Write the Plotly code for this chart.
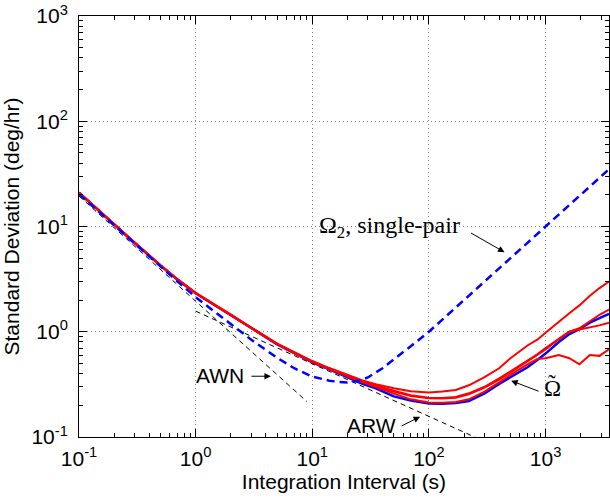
import math
import plotly.graph_objects as go

# ---------------- data ----------------
TAU = [0.1, 0.15, 0.2, 0.3, 0.5, 0.7, 1, 1.5, 2, 3, 5, 7, 10, 14, 20, 27, 35, 50, 70,
       100, 130, 170, 220, 300, 400, 500, 700, 850, 1000, 1300, 1600, 1950, 2400, 2900, 3500]

RED_1 = [21.1, 14.05, 10.55, 7.05, 4.3, 3.16, 2.345, 1.78, 1.47, 1.095, 0.772, 0.636, 0.527, 0.452,
         0.39, 0.345, 0.318, 0.29, 0.272, 0.265, 0.27, 0.28, 0.31, 0.37, 0.45, 0.56, 0.74,
         0.84, 0.98, 1.25, 1.5, 1.78, 2.2, 2.6, 3.0]
RED_2 = [21.0, 13.97, 10.48, 7.0, 4.27, 3.14, 2.33, 1.77, 1.46, 1.09, 0.767, 0.632, 0.522, 0.449,
         0.385, 0.338, 0.31, 0.275, 0.25, 0.236, 0.235, 0.24, 0.26, 0.30, 0.36, 0.42, 0.53,
         0.61, 0.70, 0.86, 1.0, 1.08, 1.25, 1.45, 1.62]
RED_3 = [20.95, 13.95, 10.46, 6.99, 4.26, 3.13, 2.33, 1.77, 1.46, 1.09, 0.765, 0.628, 0.518, 0.446,
         0.38, 0.333, 0.305, 0.27, 0.245, 0.233, 0.232, 0.236, 0.255, 0.295, 0.35, 0.41, 0.52,
         0.60, 0.68, 0.85, 1.0, 1.05, 1.1, 1.15, 1.22]
RED_4 = [20.9, 13.9, 10.43, 6.97, 4.25, 3.12, 2.32, 1.76, 1.455, 1.085, 0.762, 0.626, 0.515, 0.443,
         0.375, 0.33, 0.30, 0.258, 0.228, 0.213, 0.212, 0.215, 0.228, 0.27, 0.33, 0.39, 0.49,
         0.55, 0.56, 0.60, 0.56, 0.49, 0.60, 0.59, 0.68]
OMEGA_TILDE = [20.9, 13.9, 10.43, 6.97, 4.25, 3.12, 2.32, 1.76, 1.455, 1.085, 0.76, 0.624, 0.512,
               0.44, 0.372, 0.32, 0.29, 0.243, 0.222, 0.208, 0.207, 0.21, 0.22, 0.26, 0.32,
               0.37, 0.46, 0.54, 0.62, 0.80, 0.95, 1.06, 1.22, 1.35, 1.48]

TAU_PAIR = [0.1, 0.2, 0.3, 0.5, 0.7, 1, 1.5, 2, 3, 5, 7, 10, 14, 17, 20, 25, 30, 40, 50, 60, 70,
            100, 150, 200, 300, 500, 1000, 2000, 3500]
OMEGA2_PAIR = [20.3, 10.2, 6.85, 4.15, 3.0, 2.13, 1.5, 1.18, 0.84, 0.565, 0.45, 0.375, 0.343,
               0.333, 0.33, 0.342, 0.368, 0.45, 0.55, 0.64, 0.73, 1.0, 1.5, 2.0, 3.0, 5.0, 10.0,
               20.0, 35.0]

TAU_AWN = [0.1, 9.0]
AWN = [19.5, 0.217]
TAU_ARW = [1.0, 260.0]
ARW = [1.57, 0.0974]

X_TICKS = [0.1, 1, 10, 100, 1000]
X_TICKTEXT = ["10<sup>-1</sup>", "10<sup>0</sup>", "10<sup>1</sup>", "10<sup>2</sup>", "10<sup>3</sup>"]
Y_TICKS = [0.1, 1, 10, 100, 1000]
Y_TICKTEXT = ["10<sup>-1</sup>", "10<sup>0</sup>", "10<sup>1</sup>", "10<sup>2</sup>", "10<sup>3</sup>"]
X_MAX = 3500

# ---------------- figure ----------------
fig = go.Figure()

fig.add_trace(go.Scatter(x=TAU_AWN, y=AWN, mode="lines",
                         line=dict(color="black", width=1, dash="5px,4px")))
fig.add_trace(go.Scatter(x=TAU_ARW, y=ARW, mode="lines",
                         line=dict(color="black", width=1, dash="5px,4px")))
fig.add_trace(go.Scatter(x=TAU, y=OMEGA_TILDE, mode="lines",
                         line=dict(color="#0000ff", width=2.5)))
for r in (RED_4, RED_3, RED_2, RED_1):
    fig.add_trace(go.Scatter(x=TAU, y=r, mode="lines",
                             line=dict(color="#ff0000", width=2)))
fig.add_trace(go.Scatter(x=TAU_PAIR, y=OMEGA2_PAIR, mode="lines",
                         line=dict(color="#0000ff", width=2.5, dash="8px,5px")))

minor_vals = [k * 10 ** n for n in range(-1, 4) for k in range(2, 10)]

axis_common = dict(
    type="log",
    showline=True, linecolor="black", linewidth=1, mirror="allticks",
    ticks="inside", ticklen=8, tickwidth=1, tickcolor="black",
    showgrid=True, gridcolor="#8a8a8a", griddash="1px,3px", gridwidth=1,
    zeroline=False,
    minor=dict(ticks="inside", ticklen=4, tickcolor="black", tickvals=minor_vals,
               showgrid=False),
    tickfont=dict(family="Liberation Sans, Arial, sans-serif", size=21, color="black"),
)

fig.update_layout(
    width=610, height=500,
    margin=dict(l=79, r=1, t=16, b=63),
    plot_bgcolor="white", paper_bgcolor="white",
    showlegend=False,
    font=dict(family="Liberation Sans, Arial, sans-serif", size=21, color="black"),
    xaxis=dict(axis_common, range=[-1, math.log10(X_MAX)], tickvals=X_TICKS,
               ticktext=X_TICKTEXT, ticklabelstandoff=3,
               title=dict(text="Integration Interval (s)", standoff=1,
                          font=dict(size=21))),
    yaxis=dict(axis_common, range=[-1, 3], tickvals=Y_TICKS, ticktext=Y_TICKTEXT,
               ticklabelstandoff=6,
               title=dict(text="Standard Deviation (deg/hr)", standoff=11,
                          font=dict(size=21))),
)

serif = "Liberation Serif, DejaVu Serif, serif"
sans = "Liberation Sans, Arial, sans-serif"
L = math.log10

# text labels
fig.add_annotation(x=L(46), y=L(9.8), text="Ω<sub>2</sub>, single-pair", showarrow=False,
                   font=dict(family=serif, size=24, color="black"))
fig.add_annotation(x=L(1.615), y=L(0.387), text="AWN", showarrow=False,
                   font=dict(family=sans, size=21, color="black"))
fig.add_annotation(x=L(32.3), y=L(0.13), text="ARW", showarrow=False,
                   font=dict(family=sans, size=21, color="black"))
fig.add_annotation(x=L(1145), y=L(0.289), text="Ω", showarrow=False,
                   font=dict(family=serif, size=23, color="black"))
fig.add_annotation(x=L(1145), y=L(0.289), yshift=5, text="˜", showarrow=False,
                   font=dict(family=serif, size=23, color="black"))

# arrows
arrow = dict(showarrow=True, text="", arrowhead=2, arrowsize=1.3, arrowwidth=1,
             arrowcolor="black")
fig.add_annotation(x=L(445), y=L(5.7), ax=-35, ay=-20, **arrow)
fig.add_annotation(x=L(4.42), y=L(0.378), ax=-21, ay=0, **arrow)
fig.add_annotation(x=L(84), y=L(0.156), ax=-20, ay=10, **arrow)
fig.add_annotation(x=L(507), y=L(0.342), ax=29, ay=11, **arrow)

fig.write_html("out.html")
